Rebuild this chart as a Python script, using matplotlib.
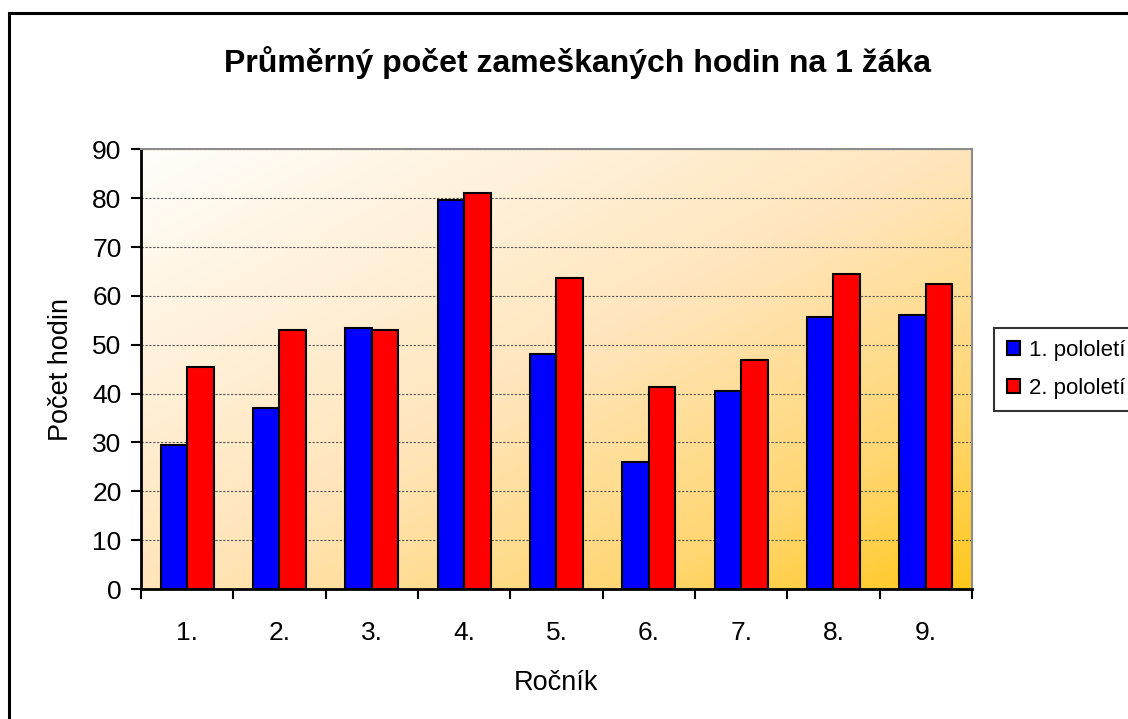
import matplotlib.pyplot as plt
import numpy as np
from matplotlib.colors import LinearSegmentedColormap
from matplotlib.patches import Rectangle

# - Data
rocniky = ['1.', '2.', '3.', '4.', '5.', '6.', '7.', '8.', '9.']
pololeti_1 = [29.5, 37.0, 53.4, 79.7, 48.1, 25.9, 40.6, 55.7, 56.1]
pololeti_2 = [45.4, 53.0, 53.0, 81.0, 63.7, 41.4, 46.8, 64.5, 62.4]
series_names = ['1. pololetí', '2. pololetí']

plt.rcParams['font.family'] = ['Liberation Sans', 'DejaVu Sans']

fig = plt.figure(figsize=(11.28, 7.19), dpi=100)
ax = fig.add_axes([0.125, 0.1808, 0.7367, 0.6115])

# outer chart border (cut off at right and bottom)
fig.patches.append(Rectangle((9 / 1128, -0.05), 1.2, 1 - 13 / 719 + 0.05,
                             transform=fig.transFigure, fill=False,
                             edgecolor='black', linewidth=2.2, zorder=0))

# - Diagonal gradient background (white top-left -> gold bottom-right)
n = len(rocniky)
gx, gy = np.meshgrid(np.linspace(0, 1, 400), np.linspace(0, 1, 300))
t = (gx + gy) / 2
bg = LinearSegmentedColormap.from_list(
    'bg', [(0, '#fffefb'), (0.5, '#ffe5bb'), (0.8, '#ffd670'), (1, '#ffc81c')])
ax.imshow(t, cmap=bg, extent=[-0.5, n - 0.5, 0, 90], origin='upper',
          aspect='auto', zorder=0, interpolation='bilinear')

# - Bars
x = np.arange(n)
w = 0.286
ax.bar(x - w / 2, pololeti_1, w, color='#0000ff', edgecolor='black', linewidth=1.5,
       label=series_names[0], zorder=3)
ax.bar(x + w / 2, pololeti_2, w, color='#ff0000', edgecolor='black', linewidth=1.5,
       label=series_names[1], zorder=3)

ax.set_xlim(-0.5, n - 0.5)
ax.set_ylim(0, 90)
ax.set_yticks(range(0, 91, 10))
ax.yaxis.grid(True, color='#555555', linestyle=(0, (2, 1.5)), linewidth=0.8, zorder=1)

# x ticks at category boundaries, labels centred
ax.set_xticks(np.arange(-0.5, n, 1))
ax.set_xticklabels([])
ax.set_xticks(x, minor=True)
ax.set_xticklabels(rocniky, minor=True, fontsize=19)
ax.tick_params(axis='x', which='minor', length=0, pad=23)
ax.tick_params(axis='x', which='major', length=7, width=1.5, direction='out')
ax.tick_params(axis='y', length=7, width=1.5, direction='out', labelsize=19, pad=7)

for side in ['left', 'bottom']:
    ax.spines[side].set_linewidth(2)
    ax.spines[side].set_color('black')
for side in ['top', 'right']:
    ax.spines[side].set_linewidth(1.5)
    ax.spines[side].set_color('#8c8c8c')

ax.set_xlabel('Ročník', fontsize=19.5, labelpad=18)
ax.set_ylabel('Počet hodin', fontsize=19.5, labelpad=13)
fig.suptitle('Průměrný počet zameškaných hodin na 1 žáka', x=0.512, y=0.936,
             fontsize=23, fontweight='bold')

leg = ax.legend(loc='center left', bbox_to_anchor=(1.027, 0.5), fontsize=16,
                frameon=True, fancybox=False, edgecolor='black',
                handlelength=0.6, handleheight=0.6, handletextpad=0.4,
                borderpad=0.55, labelspacing=0.75, borderaxespad=0)
leg.get_frame().set_linewidth(1.5)

fig.savefig('out.png', dpi=100)
